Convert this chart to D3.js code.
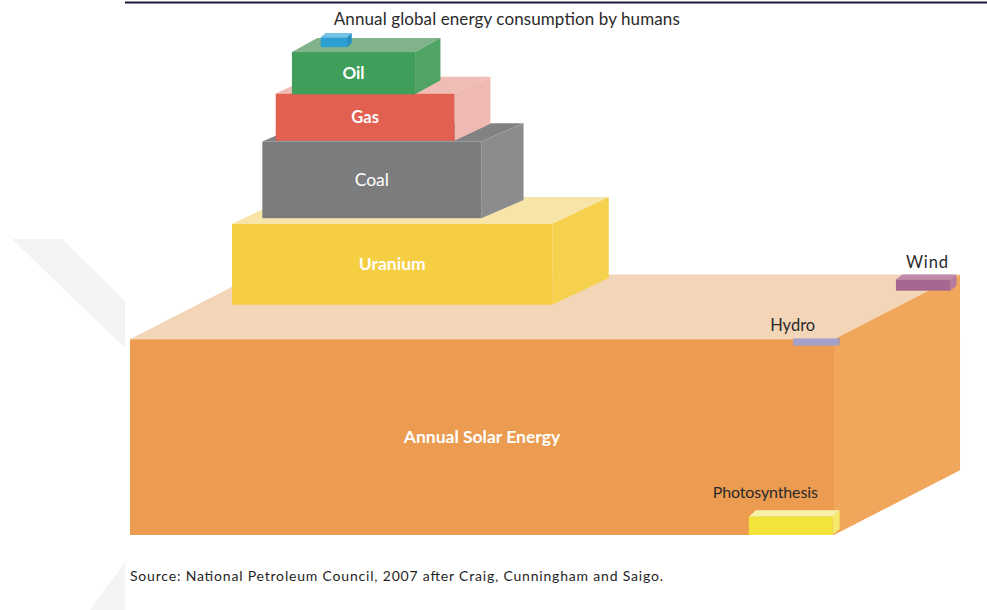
<!DOCTYPE html>
<html>
<head>
<meta charset="utf-8">
<script src="https://cdn.jsdelivr.net/npm/d3@7"></script>
<style>
  html, body { margin: 0; padding: 0; background: #fff; }
  svg { display: block; }
  text { font-family: "Lato", "Liberation Sans", sans-serif; }
</style>
</head>
<body>
<div id="chart"></div>
<script>
// box sizes, in units where the solar box is 100 wide
const boxLabels = ["Annual Solar Energy", "Photosynthesis", "Hydro", "Wind", "Uranium", "Coal", "Gas", "Oil", "Annual global energy consumption by humans"];
const boxLeft   = [0,    87.9, 94.2, 108.8, 14.5, 18.8, 20.7, 23.0, 27.1];
const boxBase   = [0,    0,    26.9, 34.7,  32.7, 45.0, 56.0, 62.6, 69.3];
const boxWidth  = [100,  11.9, 6.3,  7.7,   45.5, 31.1, 25.4, 17.5, 3.7];
const boxHeight = [27.8, 2.6,  1.0,  1.6,   11.5, 10.9, 6.7,  6.0,  1.4];
const depthX    = [17.9, 1.0,  0.3,  0.9,   8.0,  6.0,  5.1,  3.6,  0.7];
const depthY    = [9.2,  0.9,  0.1,  0.7,   3.8,  2.6,  2.4,  2.0,  0.6];

const sourceNote = "Source: National Petroleum Council, 2007 after Craig, Cunningham and Saigo.";

const colors = {
  "Annual Solar Energy": { front: "#eb9c51", top: "#f3d6b8", side: "#f1a75b" },
  "Photosynthesis":      { front: "#f3e43a", top: "#f8f2a8", side: "#f5ea6a" },
  "Hydro":               { front: "#a3a1c9", top: "#b9b7d6", side: "#9896c0" },
  "Wind":                { front: "#a66890", top: "#bf8aab", side: "#b57a9f" },
  "Uranium":             { front: "#f5ce42", top: "#f6e4a8", side: "#f6d14e" },
  "Coal":                { front: "#7a7c7d", top: "#808283", side: "#8a8c8e" },
  "Gas":                 { front: "#e26050", top: "#efbcb6", side: "#efbab4" },
  "Oil":                 { front: "#3e9e5a", top: "#80b38c", side: "#4fa464" },
  "Annual global energy consumption by humans": { front: "#2c9fd3", top: "#74c2e4", side: "#2590c4" }
};

// where text goes: inside = white centred on front face, otherwise offset from front top-left
const labelPos = {
  "Annual Solar Energy": { inside: true, size: 17.5, weight: "bold" },
  "Uranium": { inside: true, size: 17.5, weight: "bold" },
  "Coal": { inside: true, size: 17.5, weight: "normal" },
  "Gas": { inside: true, size: 16.5, weight: "bold" },
  "Oil": { inside: true, size: 17, weight: "bold" },
  "Photosynthesis": { dx: -36, dy: -19, size: 16, len: 105 },
  "Hydro": { dx: -23, dy: -8, size: 16.5, len: 45 },
  "Wind": { dx: 10, dy: -11, size: 16.5, len: 42 },
  "Annual global energy consumption by humans": { dx: 13, dy: -12, size: 17, len: 346 }
};

const width = 987, height = 610;
const svg = d3.select("#chart").append("svg")
  .attr("width", width)
  .attr("height", height);

// faint watermark in the page margin
svg.append("polygon")
  .attr("points", "12,239 62,239 125,301 125,348")
  .attr("fill", "#f3f3f3");
svg.append("polygon")
  .attr("points", "125,562 125,610 90,610")
  .attr("fill", "#f4f4f4");

// top rule
svg.append("line")
  .attr("x1", 125).attr("x2", width)
  .attr("y1", 2.5).attr("y2", 2.5)
  .attr("stroke", "#1d1b3a")
  .attr("stroke-width", 2);

const x = d3.scaleLinear().domain([0, 100]).range([130, 834]);
const y = d3.scaleLinear().domain([0, 100]).range([535, -169]);
const k = x(1) - x(0);

const boxes = boxLabels.map((label, i) => {
  const L = x(boxLeft[i]), R = x(boxLeft[i] + boxWidth[i]);
  const B = y(boxBase[i]), T = y(boxBase[i] + boxHeight[i]);
  const ox = depthX[i] * k, oy = depthY[i] * k;
  return { label, L, R, B, T, ox, oy };
});

const line = d3.line();

const g = svg.selectAll("g.box")
  .data(boxes)
  .join("g")
  .attr("class", "box");

g.append("path")
  .attr("d", d => line([[d.L, d.T], [d.L + d.ox, d.T - d.oy], [d.R + d.ox, d.T - d.oy], [d.R, d.T]]) + "Z")
  .attr("fill", d => colors[d.label].top);

g.append("path")
  .attr("d", d => line([[d.R, d.T], [d.R + d.ox, d.T - d.oy], [d.R + d.ox, d.B - d.oy], [d.R, d.B]]) + "Z")
  .attr("fill", d => colors[d.label].side);

g.append("rect")
  .attr("x", d => d.L)
  .attr("y", d => d.T)
  .attr("width", d => d.R - d.L)
  .attr("height", d => d.B - d.T)
  .attr("fill", d => colors[d.label].front);

// labels
svg.selectAll("text.lbl")
  .data(boxes)
  .join("text")
  .attr("class", "lbl")
  .each(function(d) {
    const p = labelPos[d.label];
    const t = d3.select(this)
      .attr("font-size", p.size)
      .text(d.label);
    if (p.inside) {
      t.attr("x", (d.L + d.R) / 2)
        .attr("y", (d.T + d.B) / 2)
        .attr("dy", "0.35em")
        .attr("text-anchor", "middle")
        .attr("font-weight", p.weight)
        .attr("fill", "#fff");
    } else {
      t.attr("x", d.L + p.dx)
        .attr("y", d.T + p.dy)
        .attr("fill", "#2a2a2a");
      if (p.len) t.attr("textLength", p.len);
    }
  });

svg.append("text")
  .attr("x", 130)
  .attr("y", 581)
  .attr("font-size", 14)
  .attr("fill", "#1f1f1f")
  .attr("textLength", 533)
  .text(sourceNote);
</script>
</body>
</html>
